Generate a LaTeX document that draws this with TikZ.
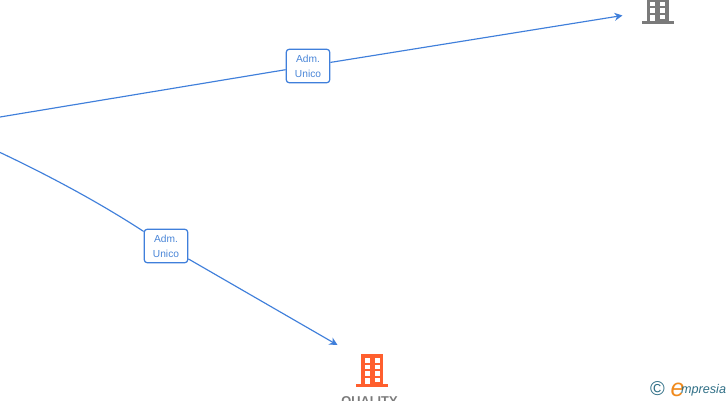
\documentclass[tikz,border=0pt]{standalone}
\usepackage{fontspec}
\setmainfont{Liberation Sans}
\usetikzlibrary{arrows.meta}
\definecolor{linkblue}{HTML}{3F7FDB}
\definecolor{labelblue}{HTML}{4A86D8}
\definecolor{bldgrey}{HTML}{7A7A7A}
\definecolor{bldorange}{HTML}{FF5F2E}
\definecolor{logoteal}{HTML}{2F6F86}
\definecolor{logoorange}{HTML}{F08A1D}
\tikzset{
  x=1pt,y=-1pt,
  link/.style={draw=linkblue,line width=1.15pt},
  linkarrow/.style={link,-{Stealth[length=8pt,width=8pt]}},
  rolebox/.style={draw=linkblue,line width=1.2pt,rounded corners=3pt,fill=white,
    minimum width=43.5pt,minimum height=33.5pt,inner sep=0pt,align=center,
    text=labelblue,font=\fontsize{10.2}{15}\selectfont},
  win/.style={fill=white,draw=none}
}
\newcommand{\bld}[3]{% x offset, y offset, colour
  \begin{scope}[shift={(#1,#2)}]
    \fill[#3] (5,0) rectangle (27,31);
    \fill[#3] (0,30) rectangle (32,33);
    \foreach \yy in {4,10.5,17}{
      \fill[win] (8.7,\yy) rectangle (13.7,\yy+4.6);
      \fill[win] (18.7,\yy) rectangle (23.7,\yy+4.6);
    }
    \fill[win] (8.7,23.6) rectangle (13.7,30);
    \fill[win] (18.7,23.6) rectangle (23.7,28);
  \end{scope}}
\begin{document}
\begin{tikzpicture}
\useasboundingbox (0,0) rectangle (728,400);
\fill[white] (0,0) rectangle (728,400);
\coordinate (srcA) at (-3,117.5);
\coordinate (srcB) at (-3,151);
\coordinate (endA) at (622.5,15.5);
\coordinate (endB) at (337.5,345);
\node[rolebox] (roleA) at (308,66) {Adm.\\Unico};
\node[rolebox] (roleB) at (166,246) {Adm.\\Unico};
\draw[link] (srcA) -- (roleA);
\draw[linkarrow] (roleA) -- (endA);
\draw[link] (srcB) .. controls (50,176) and (100,203) .. (roleB);
\draw[linkarrow] (roleB) -- (endB);
\bld{641.5}{-9}{bldgrey}
\bld{356}{354}{bldorange}
\node[font=\bfseries\fontsize{12.8}{14}\selectfont,text=bldgrey,anchor=base] (qualityname) at (369.5,405) {QUALITY};
\node[font=\fontsize{20}{20}\selectfont,text=logoteal,inner sep=0pt] (logoc) at (657.5,388.5) {©};
\node[font=\itshape\fontsize{25}{25}\selectfont,text=logoorange,anchor=base,inner sep=0pt] (logoe) at (677.5,396) {e};
\node[font=\itshape\fontsize{12.6}{14}\selectfont,text=logoteal,anchor=base west,inner sep=0pt] (logot) at (681,393.5) {mpresia};
\end{tikzpicture}
\end{document}
